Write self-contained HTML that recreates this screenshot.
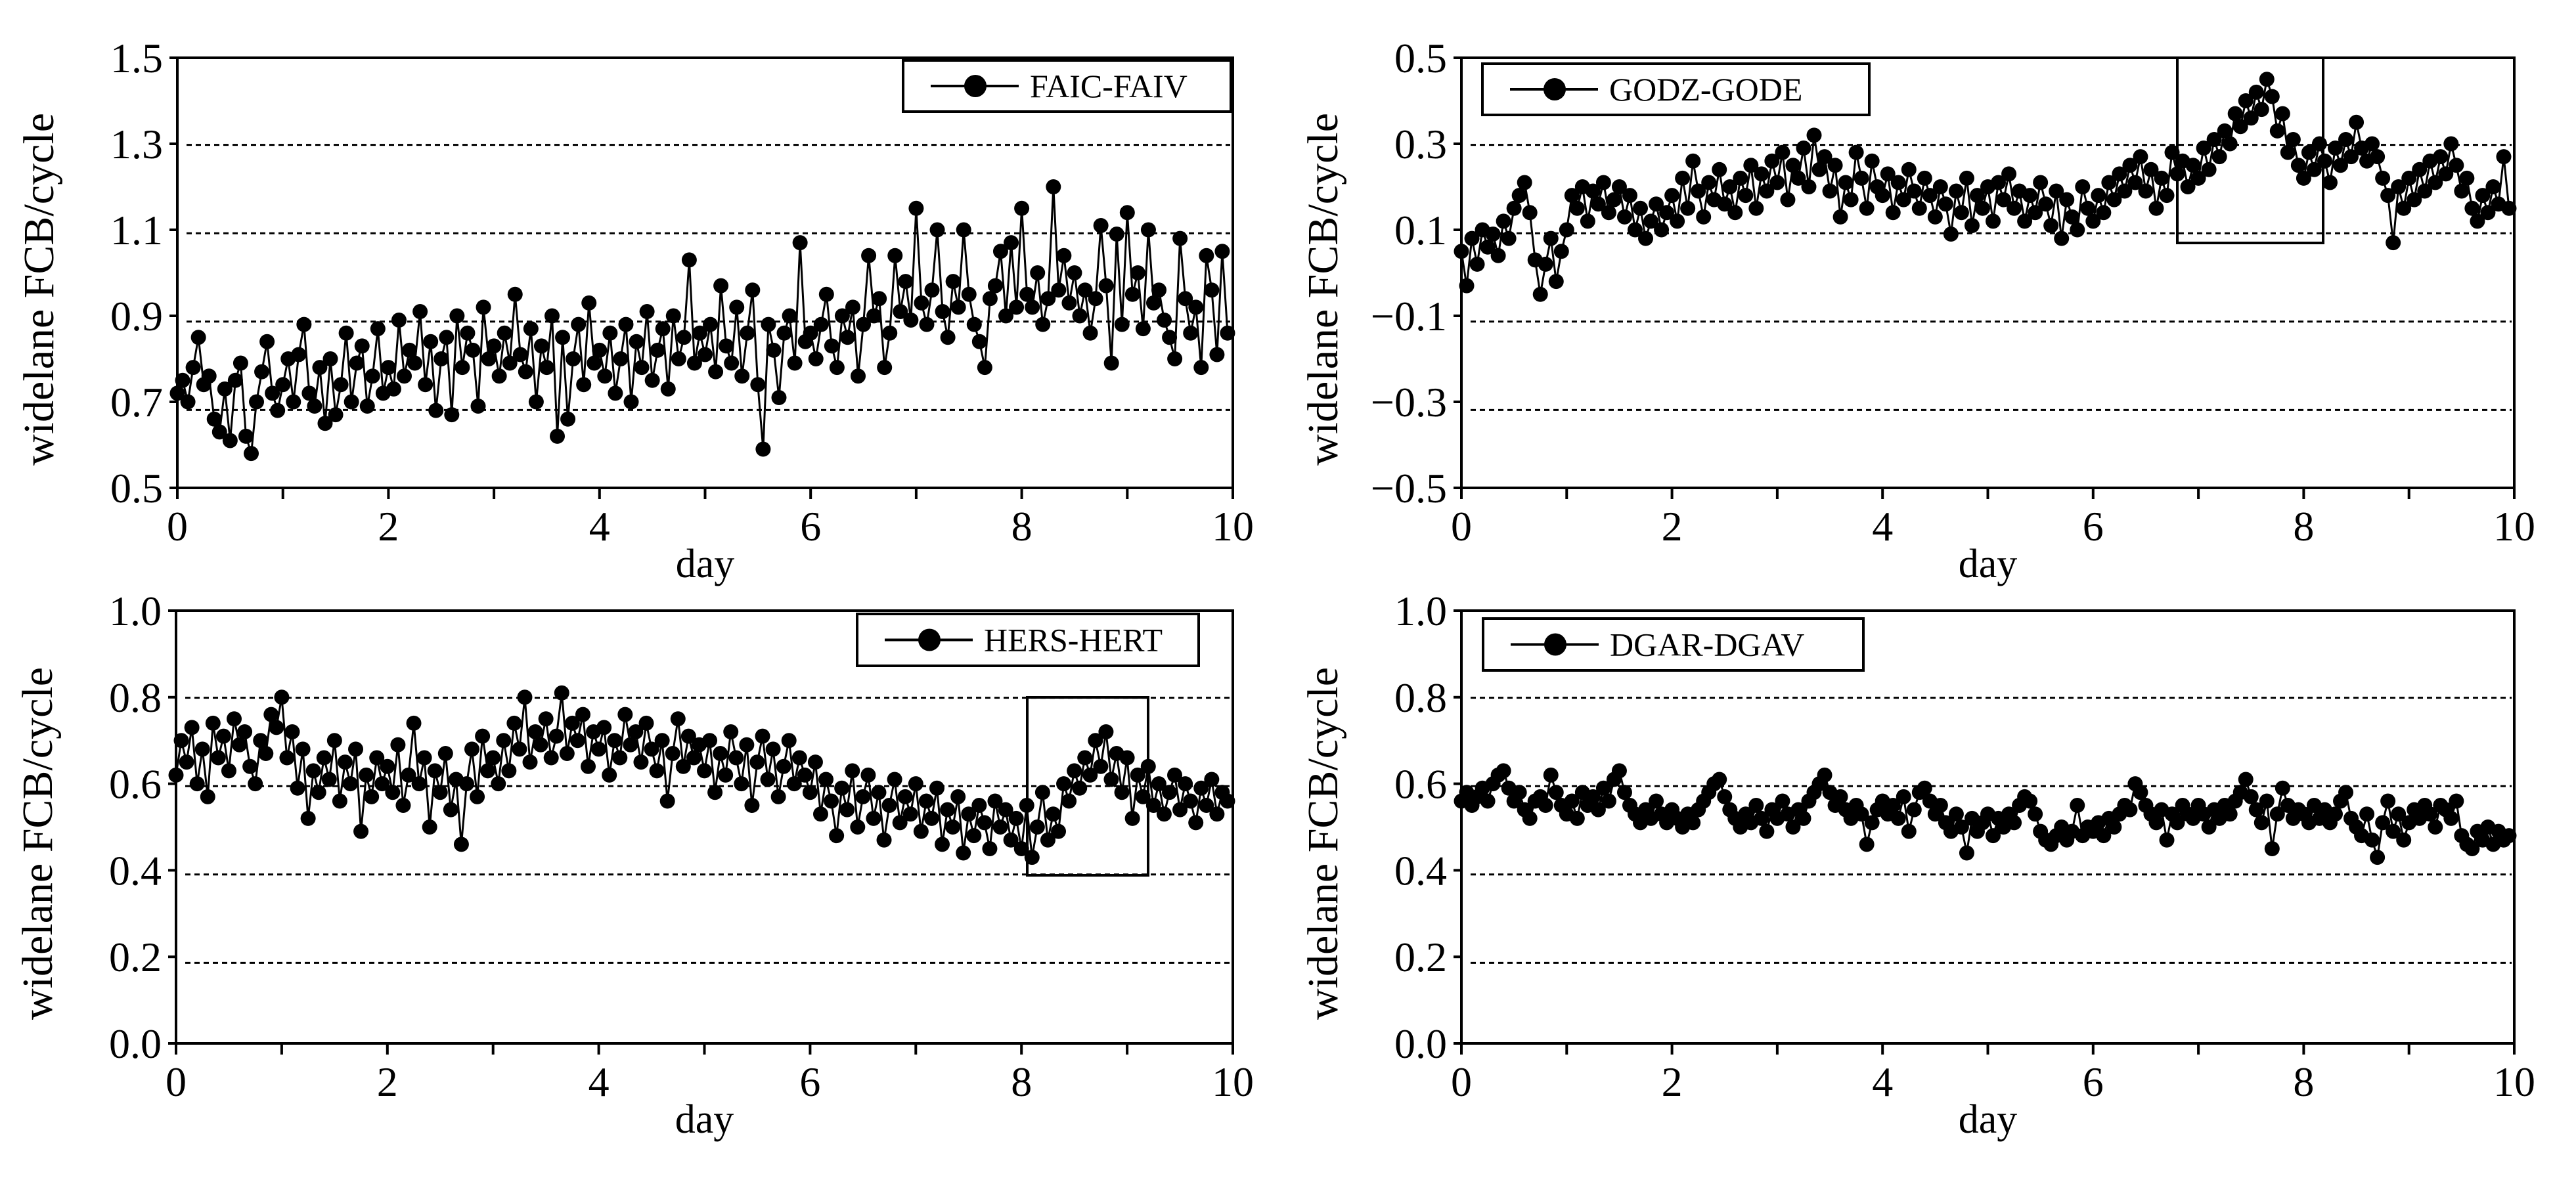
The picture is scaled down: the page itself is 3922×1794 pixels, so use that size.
<!DOCTYPE html>
<html><head><meta charset="utf-8"><style>
html,body{margin:0;padding:0;background:#fff;}
svg{display:block;font-family:"Liberation Serif","Times New Roman",serif;}
</style></head><body>
<svg id="chart" width="3922" height="1794" viewBox="0 0 3922 1794" xmlns="http://www.w3.org/2000/svg"></svg>
<script>
// ---- data ----
const dayStep = 0.05;
const xTicks = [0,1,2,3,4,5,6,7,8,9,10];
const xTickLabels = ["0","","2","","4","","6","","8","","10"];
const namesList = ["FAIC-FAIV","GODZ-GODE","HERS-HERT","DGAR-DGAV"];
const faicValues = [
0.72,0.75,0.70,0.78,0.85,0.74,0.76,0.66,0.63,0.73,0.61,0.75,0.79,0.62,0.58,0.70,0.77,0.84,0.72,0.68,
0.74,0.80,0.70,0.81,0.88,0.72,0.69,0.78,0.65,0.80,0.67,0.74,0.86,0.70,0.79,0.83,0.69,0.76,0.87,0.72,
0.78,0.73,0.89,0.76,0.82,0.79,0.91,0.74,0.84,0.68,0.80,0.85,0.67,0.90,0.78,0.86,0.82,0.69,0.92,0.80,
0.83,0.76,0.86,0.79,0.95,0.81,0.77,0.87,0.70,0.83,0.78,0.90,0.62,0.85,0.66,0.80,0.88,0.74,0.93,0.79,
0.82,0.76,0.86,0.72,0.80,0.88,0.70,0.84,0.78,0.91,0.75,0.82,0.87,0.73,0.90,0.80,0.85,1.03,0.79,0.86,
0.81,0.88,0.77,0.97,0.83,0.79,0.92,0.76,0.86,0.96,0.74,0.59,0.88,0.82,0.71,0.86,0.90,0.79,1.07,0.84,
0.86,0.80,0.88,0.95,0.83,0.78,0.90,0.85,0.92,0.76,0.88,1.04,0.90,0.94,0.78,0.86,1.04,0.91,0.98,0.89,
1.15,0.93,0.88,0.96,1.10,0.91,0.85,0.98,0.92,1.10,0.95,0.88,0.84,0.78,0.94,0.97,1.05,0.90,1.07,0.92,
1.15,0.95,0.92,1.00,0.88,0.94,1.20,0.96,1.04,0.93,1.00,0.90,0.96,0.86,0.94,1.11,0.97,0.79,1.09,0.88,
1.14,0.95,1.00,0.87,1.10,0.93,0.96,0.89,0.85,0.80,1.08,0.94,0.86,0.92,0.78,1.04,0.96,0.81,1.05,0.86];
const godzValues = [
0.05,-0.03,0.08,0.02,0.10,0.06,0.09,0.04,0.12,0.08,0.15,0.18,0.21,0.14,0.03,-0.05,0.02,0.08,-0.02,0.05,
0.10,0.18,0.15,0.20,0.12,0.19,0.16,0.21,0.14,0.17,0.20,0.13,0.18,0.10,0.15,0.08,0.12,0.16,0.10,0.14,
0.18,0.12,0.22,0.15,0.26,0.19,0.13,0.21,0.17,0.24,0.16,0.20,0.14,0.22,0.18,0.25,0.15,0.23,0.19,0.26,
0.21,0.28,0.17,0.25,0.22,0.29,0.20,0.32,0.24,0.27,0.19,0.25,0.13,0.21,0.17,0.28,0.22,0.15,0.26,0.20,
0.18,0.23,0.14,0.21,0.17,0.24,0.19,0.15,0.22,0.18,0.13,0.20,0.16,0.09,0.19,0.14,0.22,0.11,0.18,0.15,
0.20,0.12,0.21,0.17,0.23,0.15,0.19,0.12,0.18,0.14,0.21,0.16,0.11,0.19,0.08,0.17,0.13,0.10,0.20,0.15,
0.12,0.18,0.14,0.21,0.17,0.23,0.19,0.25,0.21,0.27,0.19,0.24,0.15,0.22,0.18,0.28,0.23,0.26,0.20,0.25,
0.22,0.29,0.24,0.31,0.27,0.33,0.30,0.37,0.34,0.40,0.36,0.42,0.38,0.45,0.41,0.33,0.37,0.28,0.31,0.25,
0.22,0.28,0.24,0.30,0.26,0.21,0.29,0.25,0.31,0.27,0.35,0.29,0.26,0.30,0.27,0.22,0.18,0.07,0.20,0.15,
0.22,0.17,0.24,0.19,0.26,0.21,0.27,0.23,0.30,0.25,0.19,0.22,0.15,0.12,0.18,0.14,0.20,0.16,0.27,0.15];
const hersValues = [
0.62,0.70,0.65,0.73,0.60,0.68,0.57,0.74,0.66,0.71,0.63,0.75,0.69,0.72,0.64,0.60,0.70,0.67,0.76,0.73,
0.80,0.66,0.72,0.59,0.68,0.52,0.63,0.58,0.66,0.61,0.70,0.56,0.65,0.60,0.68,0.49,0.62,0.57,0.66,0.60,
0.64,0.58,0.69,0.55,0.62,0.74,0.60,0.66,0.50,0.63,0.58,0.67,0.54,0.61,0.46,0.60,0.68,0.57,0.71,0.63,
0.66,0.60,0.70,0.63,0.74,0.68,0.80,0.65,0.72,0.69,0.75,0.66,0.71,0.81,0.67,0.74,0.70,0.76,0.64,0.72,
0.68,0.73,0.62,0.70,0.66,0.76,0.69,0.72,0.65,0.74,0.68,0.63,0.70,0.56,0.67,0.75,0.64,0.71,0.66,0.69,
0.63,0.70,0.58,0.67,0.62,0.72,0.66,0.60,0.69,0.55,0.65,0.71,0.61,0.68,0.57,0.64,0.70,0.60,0.66,0.62,
0.58,0.65,0.53,0.61,0.56,0.48,0.59,0.54,0.63,0.50,0.57,0.62,0.52,0.58,0.47,0.55,0.61,0.51,0.57,0.53,
0.60,0.49,0.56,0.52,0.59,0.46,0.54,0.50,0.57,0.44,0.53,0.48,0.55,0.51,0.45,0.56,0.50,0.54,0.47,0.52,
0.45,0.55,0.43,0.50,0.58,0.47,0.53,0.49,0.60,0.56,0.63,0.59,0.66,0.62,0.70,0.64,0.72,0.61,0.67,0.58,
0.66,0.52,0.62,0.57,0.64,0.55,0.60,0.53,0.58,0.62,0.54,0.60,0.56,0.51,0.59,0.55,0.61,0.53,0.58,0.56];
const dgarValues = [
0.56,0.58,0.55,0.57,0.59,0.56,0.60,0.62,0.63,0.59,0.56,0.58,0.54,0.52,0.56,0.57,0.55,0.62,0.58,0.55,
0.53,0.56,0.52,0.58,0.55,0.57,0.54,0.59,0.56,0.61,0.63,0.58,0.55,0.53,0.51,0.54,0.52,0.56,0.53,0.51,
0.54,0.52,0.50,0.53,0.51,0.54,0.56,0.58,0.60,0.61,0.57,0.54,0.52,0.50,0.53,0.51,0.55,0.52,0.49,0.54,
0.52,0.56,0.53,0.50,0.54,0.52,0.56,0.58,0.60,0.62,0.58,0.55,0.57,0.54,0.52,0.55,0.53,0.46,0.51,0.54,
0.56,0.53,0.55,0.52,0.57,0.49,0.54,0.58,0.59,0.56,0.53,0.55,0.51,0.49,0.53,0.50,0.44,0.52,0.49,0.51,
0.53,0.48,0.52,0.50,0.53,0.51,0.55,0.57,0.56,0.53,0.49,0.47,0.46,0.48,0.50,0.47,0.49,0.55,0.48,0.50,
0.49,0.51,0.48,0.52,0.50,0.53,0.55,0.54,0.60,0.58,0.55,0.53,0.51,0.54,0.47,0.53,0.51,0.55,0.53,0.52,
0.55,0.53,0.50,0.54,0.52,0.55,0.53,0.56,0.58,0.61,0.57,0.54,0.51,0.56,0.45,0.53,0.59,0.55,0.52,0.54,
0.53,0.51,0.55,0.52,0.54,0.51,0.53,0.56,0.58,0.52,0.50,0.48,0.53,0.47,0.43,0.51,0.56,0.49,0.53,0.47,
0.51,0.54,0.52,0.55,0.53,0.50,0.55,0.54,0.52,0.56,0.48,0.46,0.45,0.49,0.47,0.50,0.46,0.49,0.47,0.48];
const yTicksA = [0.5,0.7,0.9,1.1,1.3,1.5];
const yTicksB = [-0.5,-0.3,-0.1,0.1,0.3,0.5];
const yTicksC = [0.0,0.2,0.4,0.6,0.8,1.0];
const gridA = [0.7,0.9,1.1,1.3];
const gridB = [-0.3,-0.1,0.1,0.3];
const gridC = [0.2,0.4,0.6,0.8];

const NS = "http://www.w3.org/2000/svg";
const svg = document.getElementById("chart");
function mk(tag, attrs, parent){
  const e = document.createElementNS(NS, tag);
  for (const k in attrs) e.setAttribute(k, attrs[k]);
  (parent||svg).appendChild(e);
  return e;
}

const panels = [
 {key:"faic", L:270, R:1877, T:88, B:743, ymin:0.5, ymax:1.5, ticks:yTicksA, grid:gridA, vals:faicValues, name:namesList[0],
  leg:{x:1375,y:92,w:499,h:78}, box:null, ylx:66},
 {key:"godz", L:2225, R:3828, T:88, B:743, ymin:-0.5, ymax:0.5, ticks:yTicksB, grid:gridB, vals:godzValues, name:namesList[1],
  leg:{x:2257,y:97,w:589,h:78}, box:{x1:3315,x2:3537,y1:88,y2:370}, ylx:2021},
 {key:"hers", L:268, R:1877, T:930, B:1589, ymin:0, ymax:1.0, ticks:yTicksC, grid:gridC, vals:hersValues, name:namesList[2],
  leg:{x:1305,y:935,w:520,h:79}, box:{x1:1564,x2:1748,y1:1062,y2:1333}, ylx:64},
 {key:"dgar", L:2225, R:3828, T:930, B:1589, ymin:0, ymax:1.0, ticks:yTicksC, grid:gridC, vals:dgarValues, name:namesList[3],
  leg:{x:2258,y:942,w:579,h:79}, box:null, ylx:2021}
];

panels.forEach(p=>{
  const g = mk("g", {});
  
  
  const xs = d => p.L + (d/10)*(p.R-p.L);
  const ys = v => p.B - (v-p.ymin)/(p.ymax-p.ymin)*(p.B-p.T);
  const gy = v => p.T + (p.ymax - v)*673 - 2;

  p.grid.forEach(v=>{
    const l = mk("line", {x1:p.L+14, x2:p.R-4, y1:gy(v), y2:gy(v), stroke:"#000", "stroke-width":3, "stroke-dasharray":"8 6"}, g);
    
    
  });

  const pts = p.vals.map((v,i)=> xs(i*dayStep).toFixed(1)+","+ys(v).toFixed(1)).join(" ");
  const pl = mk("polyline", {points:pts, fill:"none", stroke:"#000", "stroke-width":3}, g);
  
  
  p.vals.forEach((v,i)=>{
    const c = mk("circle", {cx:xs(i*dayStep), cy:ys(v), r:11.5, fill:"#000"}, g);
    
    
  });

  if (p.box){
    const r = mk("rect", {x:p.box.x1, y:p.box.y1, width:p.box.x2-p.box.x1, height:p.box.y2-p.box.y1, fill:"none", stroke:"#000", "stroke-width":4}, g);
    
    
  }

  const fr = mk("rect", {x:p.L, y:p.T, width:p.R-p.L, height:p.B-p.T, fill:"none", stroke:"#000", "stroke-width":4}, g);
  
  

  xTicks.forEach((d,i)=>{
    const t = mk("line", {x1:xs(d), x2:xs(d), y1:p.B, y2:p.B+17, stroke:"#000", "stroke-width":4}, g);
    
    
    if (xTickLabels[i]){
      const tx = mk("text", {x:xs(d), y:p.B+80, "font-size":64, "text-anchor":"middle"}, g);
      tx.textContent = xTickLabels[i];
      
      
    }
  });
  p.ticks.forEach(v=>{
    const t = mk("line", {x1:p.L-12, x2:p.L, y1:ys(v), y2:ys(v), stroke:"#000", "stroke-width":4}, g);
    
    
    const tx = mk("text", {x:p.L-22, y:ys(v)+22, "font-size":64, "text-anchor":"end"}, g);
    tx.textContent = (v<0 ? "\u2212"+Math.abs(v).toFixed(1) : v.toFixed(1));
    
    
  });

  const xt = mk("text", {x:(p.L+p.R)/2, y:p.B+136, "font-size":62, "text-anchor":"middle"}, g);
  xt.textContent = "day";
  
  
  const cy = (p.T+p.B)/2 + 25;
  const yt = mk("text", {x:p.ylx, y:cy, "font-size":66, "text-anchor":"middle", "dominant-baseline":"middle", transform:"rotate(-90 "+p.ylx+" "+cy+")"}, g);
  yt.textContent = "widelane FCB/cycle";
  
  

  const lg = mk("g", {}, g);
  
  
  const lb = mk("rect", {x:p.leg.x, y:p.leg.y, width:p.leg.w, height:p.leg.h, fill:"#fff", stroke:"#000", "stroke-width":4}, lg);
  
  
  const my = p.leg.y + p.leg.h/2;
  const ll = mk("line", {x1:p.leg.x+42, x2:p.leg.x+176, y1:my, y2:my, stroke:"#000", "stroke-width":4}, lg);
  
  
  const lm = mk("circle", {cx:p.leg.x+110, cy:my, r:17, fill:"#000"}, lg);
  
  
  const lt = mk("text", {x:p.leg.x+193, y:my+17, "font-size":50}, lg);
  lt.textContent = p.name;
  
  
});
</script>
</body></html>
